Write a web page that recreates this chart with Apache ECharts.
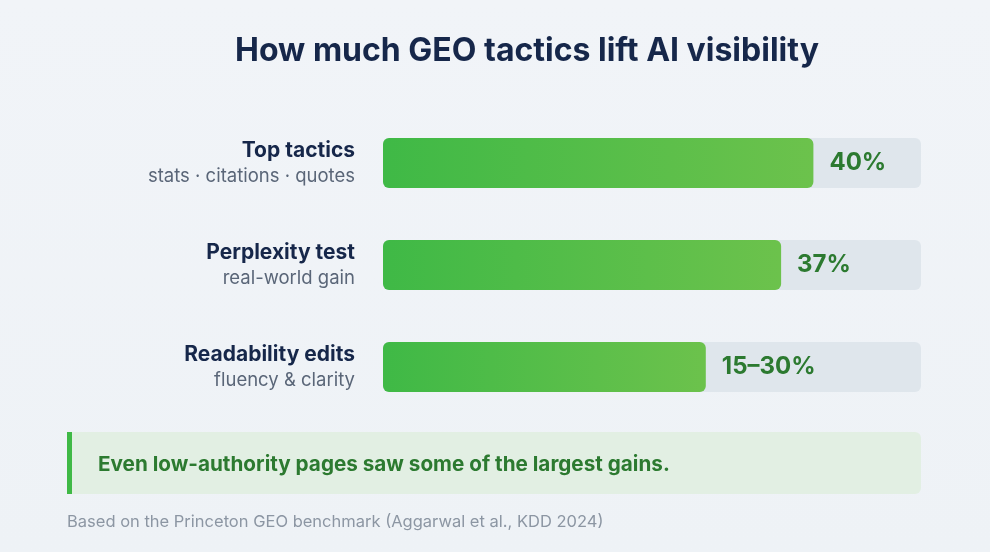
<!DOCTYPE html>
<html><head><meta charset="utf-8">
<script src="https://cdn.jsdelivr.net/npm/echarts@6/dist/echarts.min.js"></script>
<style>html,body{margin:0;padding:0;}#c{width:990px;height:552px;background:linear-gradient(180deg,#f1f4f8,#eef2f6);}</style>
</head><body><div id="c"></div>
<script>
const categories = ['Top tactics', 'Perplexity test', 'Readability edits'];
const subtitles = ['stats · citations · quotes', 'real-world gain', 'fluency & clarity'];
const values = [40, 37, 30];
const valueLabels = ['40%', '37%', '15–30%'];
const axisMax = 50;

const chart = echarts.init(document.getElementById('c'));
const font = 'Inter, "Noto Sans", sans-serif';
chart.setOption({
  backgroundColor: 'transparent',
  title: { text: 'How much GEO tactics lift AI visibility', left: 230, top: 30,
    textStyle: { fontFamily: font, fontSize: 32, fontWeight: 'bold', color: '#16274a' } },
  grid: { left: 383, right: 69, top: 112, bottom: 134 },
  xAxis: { type: 'value', min: 0, max: axisMax, show: false },
  yAxis: { type: 'category', inverse: true, data: categories,
    axisLine: { show: false }, axisTick: { show: false },
    axisLabel: { margin: 28, align: 'right',
      formatter: (v, i) => '{a|' + v + '}\n{b|' + subtitles[i] + '}',
      rich: {
        a: { fontFamily: font, fontSize: 21, fontWeight: 'bold', color: '#16274a', lineHeight: 26, align: 'right' },
        b: { fontFamily: font, fontSize: 18.5, color: '#5a6678', lineHeight: 24, align: 'right' }
      } } },
  series: [{
    type: 'bar', data: values, barWidth: 50,
    showBackground: true,
    backgroundStyle: { color: '#dfe6ec', borderRadius: 6 },
    itemStyle: { borderRadius: 6, color: new echarts.graphic.LinearGradient(0,0,1,0,[{offset:0,color:'#3fb946'},{offset:1,color:'#6cc24c'}]) },
    label: { show: true, position: 'right', distance: 16,
      formatter: p => valueLabels[p.dataIndex],
      fontFamily: font, fontSize: 24, fontWeight: 'bold', color: '#2c7a30' }
  }],
  graphic: [
    { type: 'rect', shape: { x: 67, y: 432, width: 854, height: 62, r: 6 }, style: { fill: '#e2efe3' } },
    { type: 'rect', shape: { x: 67, y: 432, width: 5, height: 62 }, style: { fill: '#3fb946' } },
    { type: 'text', x: 98, y: 465, style: { text: 'Even low-authority pages saw some of the largest gains.', fontFamily: font, fontSize: 20.7, fontWeight: 'bold', fill: '#2c7a30', textVerticalAlign: 'middle' } },
    { type: 'text', x: 67, y: 522, style: { text: 'Based on the Princeton GEO benchmark (Aggarwal et al., KDD 2024)', fontFamily: font, fontSize: 16.5, fill: '#8c96a3', textVerticalAlign: 'middle' } }
  ]
});
</script></body></html>
